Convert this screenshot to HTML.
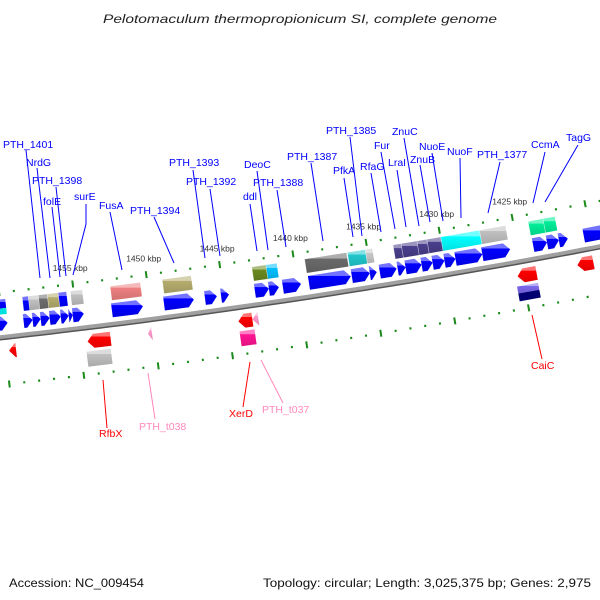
<!DOCTYPE html>
<html><head><meta charset="utf-8"><style>
html,body{margin:0;padding:0;background:#fff;}
svg{display:block;font-family:"Liberation Sans","DejaVu Sans",sans-serif;}
</style></head><body>
<svg id="map" width="600" height="600" viewBox="0 0 600 600">
<defs id="defs"></defs>
<text x="300" y="23" text-anchor="middle" font-size="12" font-style="italic" fill="#222" textLength="394" lengthAdjust="spacingAndGlyphs">Pelotomaculum thermopropionicum SI, complete genome</text>
<text x="9" y="587" font-size="12" fill="#111" textLength="135" lengthAdjust="spacingAndGlyphs">Accession: NC_009454</text>
<text x="591" y="587" text-anchor="end" font-size="12" fill="#111" textLength="328" lengthAdjust="spacingAndGlyphs">Topology: circular; Length: 3,025,375 bp; Genes: 2,975</text>
<g id="layer"></g>
</svg>
<script>
// ---- data (kbp) ----
const tickMajor = [1460,1455,1450,1445,1440,1435,1430,1425,1420];
const tickLabels = ["","1455 kbp","1450 kbp","1445 kbp","1440 kbp","1435 kbp","1430 kbp","1425 kbp",""];
const tickMinorStart = 1462, tickMinorEnd = 1417;

// forward COG boxes: start, end, color
const cogFwdStart = [1460.4,1458.49,1458.08,1457.40,1456.79,1456.05,1455.23,1452.52,1448.98,1442.88,1441.92,1439.28,1436.36,1435.14,1433.24,1432.69,1431.61,1430.93,1429.98,1427.33,1424.00,1422.98];
const cogFwdEnd   = [1459.64,1458.08,1457.40,1456.79,1456.05,1455.50,1454.42,1450.48,1447.02,1441.92,1441.18,1436.43,1435.14,1434.66,1432.69,1431.61,1430.93,1429.98,1427.33,1425.56,1422.98,1422.17];
const cogFwdColor = ["#0000ff","#0000ff","#c0c0c0","#6e6e6e","#b5ad6e","#0000ff","#c0c0c0","#ee8080","#b5ad6e","#6b8a1f","#00bfff","#6a6a6a","#20c8cc","#c8c8c8","#4a3f8c","#4a3f8c","#4a3f8c","#4a3f8c","#00ffff","#c0c0c0","#00ee99","#00ee99"];

// forward CDS arrows
const cdsFwdStart = [1460.6,1458.58,1457.97,1457.42,1456.81,1456.06,1455.52,1455.25,1452.60,1449.07,1446.29,1445.20,1442.90,1441.95,1441.00,1439.23,1436.31,1435.09,1434.41,1433.19,1432.65,1431.56,1430.81,1430.00,1429.25,1427.42,1423.95,1423.00,1422.19,1420.49];
const cdsFwdEnd   = [1459.66,1457.97,1457.42,1456.81,1456.06,1455.52,1455.25,1454.50,1450.50,1447.04,1445.48,1444.66,1441.95,1441.27,1439.77,1436.38,1435.09,1434.61,1433.26,1432.65,1431.56,1430.81,1430.00,1429.25,1427.42,1425.52,1423.00,1422.19,1421.58,1418.90];

// reverse features (arrows point left)
const cdsRevStart = [1459.77,1454.48,1450.40,1444.29,1443.34,1425.35,1421.28];
const cdsRevEnd   = [1459.30,1452.92,1450.13,1443.34,1442.94,1424.06,1420.19];
const cdsRevColor = ["#ff0000","#ff0000","#ff99cc","#ff0000","#ff99cc","#ff0000","#ff0000"];

const cogRevStart = [1454.63,1444.31,1425.51];
const cogRevEnd   = [1453.00,1443.30,1424.08];
const cogRevColor = ["#c0c0c0","#ff1493","split"];

// labels: text, text x, baseline y, leader polyline (screen)
const labNames = ["PTH_1401","NrdG","PTH_1398","folE","surE","FusA","PTH_1394","PTH_1393","PTH_1392","ddl","DeoC","PTH_1388","PTH_1387","PTH_1385","PfkA","RfaG","Fur","LraI","ZnuC","ZnuB","NuoE","NuoF","PTH_1377","CcmA","TagG","RfbX","PTH_t038","XerD","PTH_t037","CaiC"];
const labX = [3,26,32,43,74,99,130,169,186,243,244,253,287,326,333,360,374,388,392,410,419,447,477,531,566,99,139,229,262,531];
const labY = [148,166,184,205,200,209,214,166,185,200,168,186,160,134,174,170,149,166,135,163,150,155,158,148,141,437,430,417,413,369];
const labColor = ["b","b","b","b","b","b","b","b","b","b","b","b","b","b","b","b","b","b","b","b","b","b","b","b","b","r","p","r","p","r"];
const labLine = [
 [[26,150],[40,278]],[[37,168],[50,278]],[[56,187],[66,276]],[[52,207],[60,277]],
 [[86,204],[86,224],[73,275]],[[110,212],[122,270]],[[154,217],[174,263]],
 [[193,170],[205,258]],[[210,189],[220,256]],[[250,204],[257,251]],[[257,171],[268,250]],
 [[277,190],[286,247]],[[311,163],[323,241]],[[350,137],[362,236]],[[344,178],[353,237]],
 [[371,173],[381,232]],[[381,152],[395,229]],[[397,170],[406,227]],[[404,138],[419,226]],
 [[420,165],[430,222]],[[432,153],[443,221]],[[460,158],[461,218]],[[500,162],[488,213]],
 [[545,152],[533,203]],[[578,145],[545,202]],
 [[103,380],[107,428]],[[148,373],[155,419]],[[250,362],[243,407]],[[261,360],[283,403]],[[532,315],[542,359]]
];

// ---- geometry ----
const CX=-850, CY=-7287, R=7671, PHI0=1.44952, DPHI=0.001943;
function P(k,d){const a=PHI0+(k-1455)*DPHI;return [CX+(R+d)*Math.cos(a),CY+(R+d)*Math.sin(a)];}
function pts(arr){return arr.map(p=>p[0].toFixed(1)+','+p[1].toFixed(1)).join(' ');}
const NS='http://www.w3.org/2000/svg';
const layer=document.getElementById('layer');
const defs=document.getElementById('defs');
function mk(tag,attrs,parent){const e=document.createElementNS(NS,tag);for(const k in attrs)e.setAttribute(k,attrs[k]);(parent||layer).appendChild(e);return e;}
const grads={};
function mix(hex,t,to){const n=parseInt(hex.slice(1),16);let r=n>>16,g=(n>>8)&255,b=n&255;const c=to==='w'?255:0;r=Math.round(r+(c-r)*t);g=Math.round(g+(c-g)*t);b=Math.round(b+(c-b)*t);return 'rgb('+r+','+g+','+b+')';}
function grad(col){if(grads[col])return grads[col];const id='g'+col.slice(1);const lg=mk('linearGradient',{id:id,x1:0,y1:0,x2:0,y2:1},defs);
 mk('stop',{offset:'0',  'stop-color':mix(col,0.45,'w')},lg);mk('stop',{offset:'0.28','stop-color':mix(col,0.45,'w')},lg);
 mk('stop',{offset:'0.3','stop-color':col},lg);mk('stop',{offset:'1','stop-color':mix(col,0.12,'k')},lg);grads[col]='url(#'+id+')';return grads[col];}
function arcPath(k1,k2,d){const n=60;let s='';for(let i=0;i<=n;i++){const p=P(k1+(k2-k1)*i/n,d);s+=(i?'L':'M')+p[0].toFixed(1)+' '+p[1].toFixed(1);}return s;}
const HK=6/14.73;

// backbone
let bb=mk('path',{d:arcPath(1463,1416,0.5),stroke:'#a0a0a0','stroke-width':4,fill:'none'});


let bs=mk('path',{d:arcPath(1463,1416,3),stroke:'#555','stroke-width':1.5,fill:'none'});



// ticks
function drawTicks(d,prefix){
 for(let k=tickMinorStart;k>=tickMinorEnd;k--){
  const major=tickMajor.indexOf(k)>=0;
  const a=P(k,d-(major?3.5:1.1)),b=P(k,d+(major?3.5:1.1));
  const t=mk('line',{x1:a[0],y1:a[1],x2:b[0],y2:b[1],stroke:'#1a8a1a','stroke-width':2});
  
  
 }
}
drawTicks(-44,'top');
drawTicks(48,'bottom');
tickMajor.forEach((k,i)=>{ if(!tickLabels[i])return; const p=P(k,-44);
 const t=mk('text',{x:(p[0]-20).toFixed(1),y:(p[1]-13).toFixed(1),'font-size':8.5,fill:'#333'});
 t.textContent=tickLabels[i];
 
 
});

// shapes
function box(s,e,d1,d2,fill,name){const p=mk('polygon',{points:pts([P(s,d1),P(e,d1),P(e,d2),P(s,d2)]),fill:fill});
 
 return p;}
function fwdArrow(s,e,d1,d2,fill,name){const dm=(d1+d2)/2;const h=Math.min(HK,s-e);
 const p=mk('polygon',{points:pts([P(s,d1),P(e+h,d1),P(e,dm),P(e+h,d2),P(s,d2)]),fill:fill});
 
 return p;}
function revArrow(s,e,d1,d2,fill,name){const dm=(d1+d2)/2;const h=Math.min(HK,s-e);
 const p=mk('polygon',{points:pts([P(s,dm),P(s-h,d1),P(e,d1),P(e,d2),P(s-h,d2)]),fill:fill});
 
 return p;}

cogFwdStart.forEach((s,i)=>{
 if(i===0){box(s,cogFwdEnd[i],-37,-28,grad('#0000ff'),'cog-box-forward');box(s,cogFwdEnd[i],-28,-22,'#00e0e0','cog-box-forward');return;}
 box(s,cogFwdEnd[i],-37,-23,grad(cogFwdColor[i]),'cog-box-forward');
 const a=P(s,-37),b=P(s,-23);const l=mk('line',{x1:a[0],y1:a[1],x2:b[0],y2:b[1],stroke:'#fff','stroke-width':0.6,opacity:0.6});
 
 
});
cdsFwdStart.forEach((s,i)=>fwdArrow(s,cdsFwdEnd[i],-20,-6,grad('#0000ff'),'cds-forward-arrow'));
cdsRevStart.forEach((s,i)=>revArrow(s,cdsRevEnd[i],8,22,grad(cdsRevColor[i]),'cds-reverse-arrow'));
cogRevStart.forEach((s,i)=>{
 if(cogRevColor[i]==='split'){box(s,cogRevEnd[i],25,32,grad('#7b68ee'),'cog-box-reverse');box(s,cogRevEnd[i],32,40,'#000070','cog-box-reverse');}
 else box(s,cogRevEnd[i],25,40,grad(cogRevColor[i]),'cog-box-reverse');
});

// labels
const colMap={b:'#0000ff',r:'#ff0000',p:'#ff88bb'};
labNames.forEach((n,i)=>{
 const pl=mk('polyline',{points:pts(labLine[i]),fill:'none',stroke:colMap[labColor[i]],'stroke-width':1});
 
 
 const t=mk('text',{x:labX[i],y:labY[i],'font-size':10.5,fill:colMap[labColor[i]]});
 t.textContent=n;
 
 
});
</script>
</body></html>
